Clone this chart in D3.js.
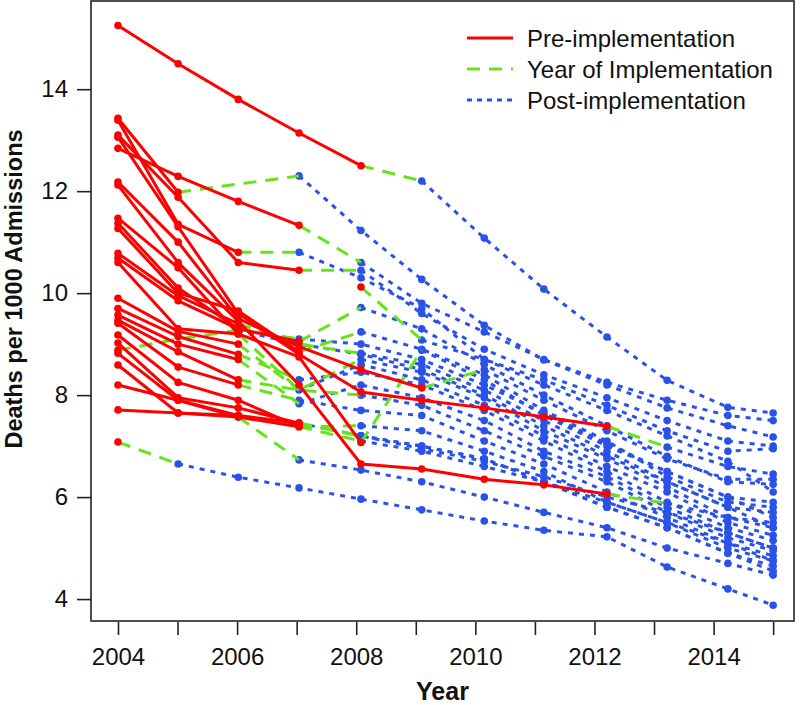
<!DOCTYPE html>
<html><head><meta charset="utf-8">
<script src="https://cdn.jsdelivr.net/npm/d3@7"></script>
<style>body{margin:0;background:#fff}svg{display:block}</style>
</head><body>
<svg id="c" width="800" height="705"></svg>
<script>
// ---- data ----
const years = [2004,2005,2006,2007,2008,2009,2010,2011,2012,2013,2014,2015];
// plotted x-position of each data year (observation mid-points)
const yearPos = [2004.0,2005.01,2006.02,2007.04,2008.08,2009.1,2010.15,2011.15,2012.21,2013.22,2014.24,2015.0];
const xTickLabels = [2004,2006,2008,2010,2012,2014];
const yTicks = [4,6,8,10,12,14];
const seriesNames = ["Pre-implementation","Year of Implementation","Post-implementation"];
const seriesColors = ["#ff0000","#66e31a","#2a52e8"];
const axisTitles = ["Year","Deaths per 1000 Admissions"];

// deaths per 1000 admissions per hospital, 2004..2015
const rates = [
 [15.25,14.5,13.8,13.14,12.5,12.2,11.08,10.08,9.14,8.29,7.76,7.65],
 [12.84,12.29,11.8,11.33,10.6,9.8,9.24,8.7,8.25,7.9,7.6,7.5],
 [13.43,11.98,null,12.3,11.23,10.27,9.37,8.69,8.2,7.75,7.4,7.18],
 [13.1,11.88,10.6,10.45,10.45,9.6,8.9,8.4,7.95,7.5,7.1,7.0],
 [13.39,11.35,10.8,10.8,10.3,9.7,8.7,8.3,7.8,7.3,6.9,6.95],
 [13.06,11.3,9.6,8.8,8.06,7.9,7.75,7.57,7.39,6.98,6.6,6.45],
 [12.18,11.0,9.5,8.95,8.5,8.14,8.5,7.9,7.3,6.75,6.35,6.35],
 [12.12,10.6,9.45,8.2,6.65,6.55,6.35,6.24,6.06,5.88,5.6,5.5],
 [11.47,10.5,9.2,8.75,7.07,8.88,8.3,7.6,7.0,6.5,6.0,5.9],
 [11.37,10.1,9.3,9.05,9.72,9.3,8.6,8.0,7.4,6.8,6.3,6.25],
 [11.27,10.0,9.65,8.85,9.24,8.9,8.4,7.7,7.1,6.4,5.9,5.8],
 [10.78,9.95,9.4,9.0,8.82,8.6,8.1,7.5,6.9,6.3,5.8,5.7],
 [10.69,9.85,9.3,9.1,9.0,8.7,8.2,7.65,7.05,6.5,6.0,5.6],
 [10.6,9.3,9.2,8.1,8.7,8.45,7.95,7.3,6.75,6.2,5.6,5.4],
 [9.9,9.25,9.0,8.1,8.6,8.3,7.8,7.2,6.6,6.1,5.5,5.25],
 [9.7,9.15,8.8,8.3,8.45,8.2,7.7,7.1,6.5,5.9,5.4,5.15],
 [9.57,9.0,8.7,7.83,8.2,7.95,7.5,6.9,6.4,5.8,5.3,5.0],
 [9.47,8.85,8.3,8.1,8.0,7.8,7.3,6.8,6.3,5.7,5.2,4.95],
 [9.41,8.55,8.2,7.9,7.7,7.6,7.1,6.65,6.1,5.6,5.1,4.85],
 [9.18,8.25,7.9,7.38,7.4,7.3,6.9,6.5,5.9,5.5,5.0,4.75],
 [9.02,7.95,7.75,7.45,7.2,7.0,6.75,6.3,5.8,5.4,4.9,4.65],
 [8.82,7.9,7.6,7.45,7.2,7.0,6.75,6.3,5.8,5.4,4.9,4.55],
 [8.59,7.65,7.57,7.38,7.1,6.9,6.6,6.3,5.9,5.5,5.1,4.75],
 [8.2,7.9,7.57,6.73,6.53,6.3,6.0,5.7,5.4,5.0,4.7,4.47],
 [7.71,7.65,7.6,7.45,7.2,6.95,6.7,6.4,6.0,5.7,5.3,5.0],
 [7.08,6.65,6.39,6.18,5.96,5.75,5.53,5.35,5.22,4.63,4.2,3.88],
 [null,null,null,null,10.12,9.08,8.7,8.2,7.7,7.2,6.7,6.1],
 [8.88,9.1,9.27,9.0,8.8,8.5,8.0,7.4,6.8,6.3,5.8,5.4]
];
// index (into years) of last pre-implementation year and first post-implementation year
const lastPre   = [4,3,1,3,2,8,5,8,4,3,3,2,2,2,2,2,2,2,2,3,3,3,3,2,2,0,4,0];
const firstPost = [5,4,3,4,3,9,6,9,5,4,4,4,3,4,3,3,3,4,3,4,4,4,4,3,3,1,5,2];

// ---- chart ----
const box = {l:91, r:794, t:1, b:621};
const svg = d3.select("#c");
const font = "'Liberation Sans', Arial, Helvetica, sans-serif";
const x = d3.scaleLinear().domain([2003.547, 2015.35]).range([box.l, box.r]);
const y = d3.scaleLinear().domain([3.57, 15.73]).range([box.b, box.t]);

const plot = svg.append("g");
const lineGen = d3.line().x(d => x(yearPos[d.i])).y(d => y(d.v));

const red = [], green = [], blue = [], redPts = [], bluePts = [];
rates.forEach((row, h) => {
  const pts = row.map((v, i) => ({i, v})).filter(d => d.v !== null);
  const lp = lastPre[h], fp = firstPost[h];
  const pre = pts.filter(d => d.i <= lp);
  const post = pts.filter(d => d.i >= fp);
  const trans = pts.filter(d => d.i >= lp && d.i <= fp);
  if (pre.length > 1) red.push(pre);
  if (post.length > 1) blue.push(post);
  if (trans.length > 1) green.push(trans);
  pre.forEach(d => redPts.push(d));
  post.forEach(d => bluePts.push(d));
});

plot.append("g").selectAll("path").data(blue).join("path")
  .attr("d", lineGen).attr("fill","none").attr("stroke",seriesColors[2])
  .attr("stroke-width",3).attr("stroke-dasharray","5,6");
plot.append("g").selectAll("circle").data(bluePts).join("circle")
  .attr("cx", d => x(yearPos[d.i])).attr("cy", d => y(d.v)).attr("r",3.8)
  .attr("fill",seriesColors[2]);
plot.append("g").selectAll("path").data(green).join("path")
  .attr("d", lineGen).attr("fill","none").attr("stroke",seriesColors[1])
  .attr("stroke-width",3).attr("stroke-dasharray","13,9");
plot.append("g").selectAll("path").data(red).join("path")
  .attr("d", lineGen).attr("fill","none").attr("stroke",seriesColors[0])
  .attr("stroke-width",3).attr("stroke-linejoin","round");
plot.append("g").selectAll("circle").data(redPts).join("circle")
  .attr("cx", d => x(yearPos[d.i])).attr("cy", d => y(d.v)).attr("r",3.8)
  .attr("fill",seriesColors[0]);

// box
svg.append("rect").attr("x",box.l).attr("y",box.t).attr("width",box.r-box.l).attr("height",box.b-box.t)
  .attr("fill","none").attr("stroke","#222").attr("stroke-width",1.6);

// axes
const yAxis = svg.append("g").attr("transform",`translate(${box.l},0)`)
  .call(d3.axisLeft(y).tickValues(yTicks).tickSize(14).tickPadding(9));
const xAxis = svg.append("g").attr("transform",`translate(0,${box.b+1})`)
  .call(d3.axisBottom(x).tickValues(years).tickSize(13).tickPadding(13)
    .tickFormat(d => xTickLabels.includes(d) ? d : ""));
[xAxis, yAxis].forEach(a => {
  a.select(".domain").remove();
  a.selectAll(".tick line").attr("stroke","#222").attr("stroke-width",1.6);
  a.selectAll(".tick text").attr("fill","#111").style("font-family",font).style("font-size","24px");
});

svg.append("text").attr("x",(box.l+box.r)/2).attr("y",700).attr("text-anchor","middle")
  .style("font-family",font).style("font-size","25px").style("font-weight","bold").attr("fill","#111")
  .text(axisTitles[0]);
svg.append("text").attr("transform","translate(22,289) rotate(-90)").attr("text-anchor","middle")
  .style("font-family",font).style("font-size","23.5px").style("font-weight","bold").attr("fill","#111")
  .text(axisTitles[1]);

// legend
const lg = svg.append("g");
const dashes = [null,"13,9","5,5"];
seriesNames.forEach((name, k) => {
  const yy = 38 + k*31;
  lg.append("line").attr("x1",467).attr("x2",513).attr("y1",yy).attr("y2",yy)
    .attr("stroke",seriesColors[k]).attr("stroke-width",3)
    .attr("stroke-dasharray",dashes[k]);
  lg.append("text").attr("x",527).attr("y",yy+8.5).text(name)
    .style("font-family",font).style("font-size","24px").attr("fill","#111");
});
</script>
</body></html>
